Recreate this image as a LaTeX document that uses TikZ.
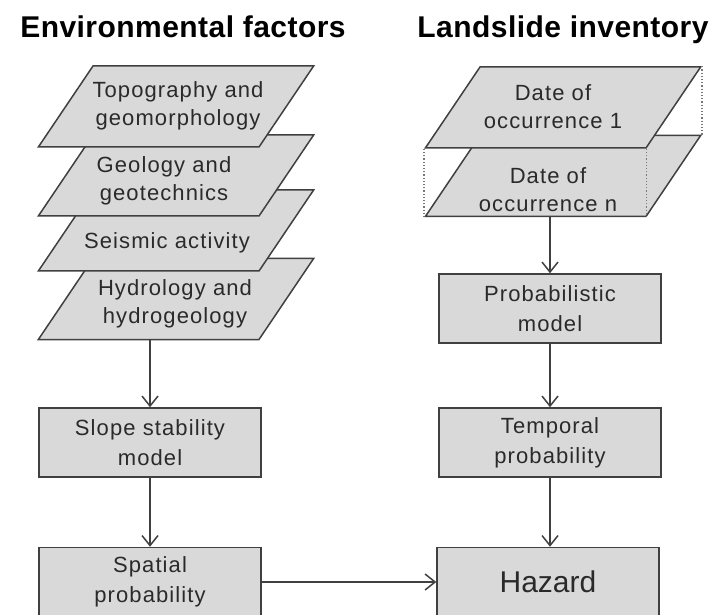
\documentclass[tikz,border=0pt]{standalone}
\usepackage{fontspec}
\setmainfont{Liberation Sans}
\newfontfamily\boxfont[LetterSpace=5]{Liberation Sans}
\newfontfamily\headfont[LetterSpace=1.5]{Liberation Sans}
\usetikzlibrary{arrows.meta, positioning, calc, shapes.geometric}

\definecolor{boxfill}{HTML}{D9D9D9}
\definecolor{boxline}{HTML}{404040}
\definecolor{textgray}{HTML}{2A2A2A}

\begin{document}
\begin{tikzpicture}[
  x=1pt, y=-1pt,
  para/.style = {draw=boxline, fill=boxfill, line width=1.5pt, trapezium,
    trapezium left angle=56, trapezium right angle=124, inner sep=0pt,
    text width=166pt, text height=81pt, text depth=0pt},
  paratext/.style = {align=center, inner sep=0pt, text=textgray,
    font=\boxfont\fontsize{22}{28}\selectfont},
  block/.style = {draw=boxline, fill=boxfill, line width=1.5pt, minimum height=69pt,
    minimum width=222pt, inner sep=0pt, align=center, text=textgray,
    font=\boxfont\fontsize{22}{30}\selectfont},
  arrow/.style = {draw=boxline, line width=1.5pt, -{Straight Barb[length=10pt,width=16pt]}},
  dotline/.style = {draw=boxline!70, line width=1.2pt, dotted},
  heading/.style = {anchor=base, font=\headfont\fontsize{30}{36}\selectfont\bfseries, text=black}
]
  \useasboundingbox (0,0) rectangle (716,615);

  % Headings
  \node[heading] (envtitle) at (183,38) {Environmental factors};
  \node[heading] (invtitle) at (563,38) {Landslide inventory};

  % Environmental factors (stacked, lowest first)
  \node[para] (hydro) at (176,299) {};
  \node[paratext] (hydrotext) at (175,304) {Hydrology and\\hydrogeology};
  \node[para] (seism) at (176,230.5) {};
  \node[paratext] (seismtext) at (167,243) {Seismic activity};
  \node[para] (geol) at (176,175.5) {};
  \node[paratext] (geoltext) at (164,181) {Geology and\\geotechnics};
  \node[para] (topo) at (176,106.5) {};
  \node[paratext] (topotext) at (178,106) {Topography and\\geomorphology};

  % Landslide inventory
  \node[para] (daten) at (563,176) {};
  \node[paratext] (datentext) at (548,190) {Date of\\occurrence n};
  \node[para] (date1) at (563,107.5) {};
  \node[paratext] (date1text) at (553,107) {Date of\\occurrence 1};
  \draw[dotline] (date1.top right corner) -- (daten.top right corner);
  \draw[dotline] (date1.bottom left corner) -- (daten.bottom left corner);
  \draw[dotline] (date1.bottom right corner) -- (daten.bottom right corner);

  % Models and probabilities
  \node[block] (slope) at (150,442.5) {Slope stability\\model};
  \node[block] (spatial) at (150,582) {Spatial\\probability};
  \node[block] (probmodel) at (550,308.5) {Probabilistic\\model};
  \node[block] (temporal) at (550,442.5) {Temporal\\probability};
  \node[block, font=\fontsize{30}{36}\selectfont] (hazard) at (548,582) {Hazard};

  % Connectors
  \draw[arrow] (slope.north |- hydro.south) -- (slope.north);
  \draw[arrow] (slope) -- (spatial);
  \draw[arrow] (probmodel.north |- daten.south) -- (probmodel.north);
  \draw[arrow] (probmodel) -- (temporal);
  \draw[arrow] (temporal) -- (temporal |- hazard.north);
  \draw[arrow] (spatial) -- (hazard);

\end{tikzpicture}
\end{document}
